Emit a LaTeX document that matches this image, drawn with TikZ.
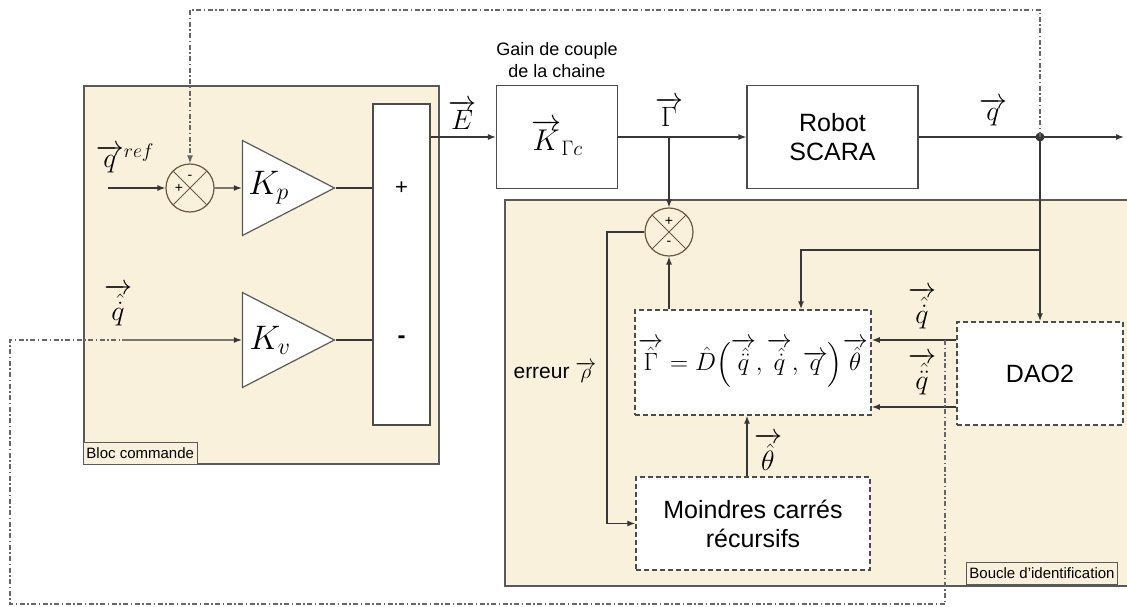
\RequirePackage{fix-cm}
\documentclass[tikz,border=0pt]{standalone}
\usepackage{amsmath}
\usepackage{fontspec}
\setmainfont{Liberation Sans}
\usetikzlibrary{arrows.meta,positioning,shapes.geometric}
\definecolor{sable}{RGB}{250,241,221}
\definecolor{trait}{RGB}{55,55,55}
\definecolor{brun}{RGB}{105,88,64}
\newcommand{\vect}[1]{\overrightarrow{#1}}

\begin{document}
\begin{tikzpicture}[
  x=1pt, y=-1pt, >={Latex[length=8pt,width=6pt]},
  zone/.style={draw=black!65, line width=1.6pt, fill=sable, anchor=north west, inner sep=0pt},
  tag/.style={draw=black!65, line width=0.9pt, fill=sable, anchor=south west, font=\fontsize{15}{17}\selectfont, inner sep=3pt, minimum height=22pt},
  blk/.style={draw=black!70, line width=1.2pt, fill=white, align=center, font=\fontsize{25}{29}\selectfont},
  dbk/.style={blk, dash pattern=on 5pt off 3pt, line width=1.4pt},
  gain/.style={isosceles triangle, isosceles triangle stretches, draw=black!65, line width=1.2pt, fill=white,
    minimum width=95pt, minimum height=92pt, inner sep=1pt, font=\fontsize{34}{40}\selectfont},
  som/.style={circle, draw=brun, line width=1.2pt, minimum size=48pt, inner sep=0pt,
    path picture={\draw[brun, line width=1pt] (path picture bounding box.north west) -- (path picture bounding box.south east)
      (path picture bounding box.north east) -- (path picture bounding box.south west);}},
  sgn/.style={font=\fontsize{14}{16}\selectfont, inner sep=0pt},
  lab/.style={font=\fontsize{28}{32}\selectfont, inner sep=1pt},
  fil/.style={draw=trait, line width=1.2pt},
  fb/.style={draw=black!60, line width=1.2pt, dash pattern=on 5pt off 2.5pt on 1.5pt off 2.5pt}]

  \clip[use as bounding box] (0,0) rectangle (1127,607);

  % --- the two shaded zones ---
  \node[zone, minimum width=355pt, minimum height=378pt] (bloc) at (83,85) {};
  \node[zone, minimum width=640pt, minimum height=386pt] (boucle) at (504,199) {};
  \node[tag] (tbloc) at (bloc.south west) {Bloc commande};
  \node[tag] (tboucle) at (966,585) {Boucle d'identification};

  % --- bloc commande ---
  \node[som] (s1) at (190,188) {};
  \node[sgn] at ([xshift=-11pt]s1.center) {+};
  \node[sgn] at ([yshift=11pt]s1.center) {-};
  \node[gain, anchor=apex] (kp) at (336,188) {$K_p$};
  \node[gain, anchor=apex] (kv) at (336,340) {$K_v$};
  \node[blk, minimum width=57pt, minimum height=321pt] (plus) at (401.5,264.5) {};
  \node[font=\fontsize{22}{24}\selectfont] at (plus.center |- kp.apex) {+};
  \node[font=\fontsize{24}{26}\selectfont\bfseries] at (plus.center |- kv.apex) {-};

  % --- main chain ---
  \node[blk, minimum width=121pt, minimum height=103pt, font=\fontsize{30}{34}\selectfont] (kg) at (557,137) {$\vect{K}_{\Gamma c}$};
  \node[align=center, font=\fontsize{18}{22}\selectfont, above=4pt of kg] (tgain) {Gain de couple\\de la chaine};
  \node[blk, minimum width=171pt, minimum height=103pt] (robot) at (832.5,137) {Robot\\SCARA};

  % --- boucle d'identification ---
  \node[som] (s2) at (669,232) {};
  \node[sgn] at ([yshift=11pt]s2.center) {+};
  \node[sgn] at ([yshift=-11pt]s2.center) {-};
  \node[dbk, minimum width=234pt, minimum height=105pt, font=\fontsize{25}{29}\selectfont] (eq) at (753,362.5)
    {$\vect{\hat\Gamma} = \hat D\Bigl(\vect{\hat{\ddot q}},\vect{\hat{\dot q}},\vect{q}\Bigr)\vect{\hat\theta}$};
  \node[dbk, minimum width=234pt, minimum height=93pt] (mc) at (753,523.5) {Moindres carrés\\récursifs};
  \node[dbk, minimum width=166pt, minimum height=103pt] (dao) at (1040,373.5) {DAO2};

  % --- signal labels ---
  \node[lab] (lqref) at (125,158) {$\vect{q}^{ref}$};
  \node[lab] (lqd) at (118,305) {$\vect{\hat{\dot q}}$};
  \node[lab] (lE) at (462,115) {$\vect{E}$};
  \node[lab] (lG) at (669,112) {$\vect{\Gamma}$};
  \node[lab] (lq) at (993,112) {$\vect{q}$};
  \node[lab] (lqd2) at (922,308) {$\vect{\hat{\dot q}}$};
  \node[lab] (lqdd) at (922,374) {$\vect{\hat{\ddot q}}$};
  \node[lab] (lth) at (768,452) {$\vect{\hat\theta}$};
  \node[font=\fontsize{21}{25}\selectfont] (lerr) at (555,372) {erreur $\vect{\rho}$};

  % --- helper points ---
  \coordinate (qin) at (108,188);
  \coordinate (qdin) at (122,340);
  \coordinate (gj) at (669,137);
  \coordinate (qj) at (1040,137);
  \coordinate (qout) at (1124,137);
  \coordinate (br) at (1040,250);
  \coordinate (erp) at (607,0);
  \coordinate (th) at (747,0);
  \coordinate (up) at (945,340);
  \coordinate (upk) at (900,340);
  \coordinate (lo) at (945,407);
  \coordinate (top) at (0,10);
  \coordinate (bot) at (0,604);
  \coordinate (lft) at (10,0);

  % --- connectors ---
  \draw[fil,->] (qin) -- (s1);
  \draw[fil,->] (s1) -- (kp.west);
  \draw[fil] (kp.apex) -- (kp.apex -| plus.west);
  \draw[fil,->] (qdin) -- (kv.west);
  \draw[fil] (kv.apex) -- (kv.apex -| plus.west);
  \draw[fil,->] (plus.east |- kg.west) -- (kg.west);
  \draw[fil,->] (kg) -- (robot);
  \draw[fil,->] (robot) -- (qout);
  \draw[fil,->] (gj) -- (s2);
  \draw[fil,->, line width=2pt] (qj) -- (dao);
  \draw[fil,->, line width=2pt] (br) -| ([xshift=48pt]eq.north);
  \draw[fil,->] (dao.west |- up) -- (eq.east |- up);
  \draw[fil, line width=2.2pt] (dao.west |- up) -- (upk);
  \draw[fil,->] (dao.west |- lo) -- (eq.east |- lo);
  \draw[fil,->] (eq.north -| s2) -- (s2);
  \draw[fil,->] (s2.west) -- (s2.west -| erp) |- (mc.west);
  \draw[fil,->] (mc.north -| th) -- (eq.south -| th);
  \fill[trait] (qj) circle (4.5pt);

  % --- feedback (dash-dot) ---
  \draw[fb,->] (qj) -- (qj |- top) -- (top -| s1) -- (s1);
  \draw[fb] (up) -- (up |- bot) -- (bot -| lft) -- (lft |- qdin) -- (qdin);
\end{tikzpicture}
\end{document}
